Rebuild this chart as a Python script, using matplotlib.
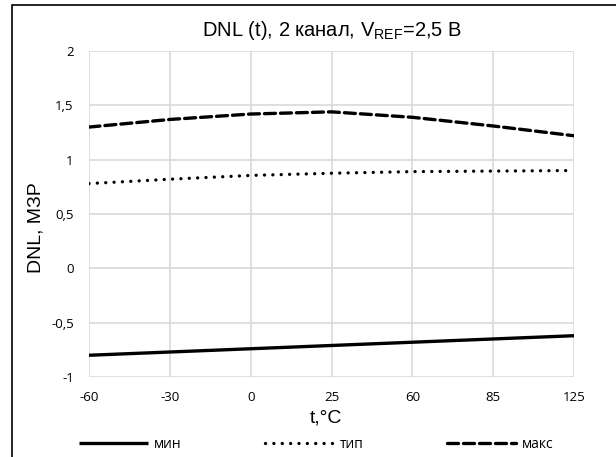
import matplotlib
matplotlib.use("Agg")
import matplotlib.pyplot as plt
from matplotlib.patches import Rectangle

# temperature points (category axis, like the Excel original)
temps = [-60, -30, 0, 25, 60, 85, 125]
dnl_min = [-0.80, -0.77, -0.74, -0.71, -0.68, -0.65, -0.62]
dnl_typ = [0.78, 0.82, 0.855, 0.875, 0.89, 0.895, 0.90]
dnl_max = [1.30, 1.37, 1.42, 1.44, 1.39, 1.31, 1.22]

y_ticks = [-1, -0.5, 0, 0.5, 1, 1.5, 2]
y_labels = ["-1", "-0,5", "0", "0,5", "1", "1,5", "2"]

plt.rcParams['font.family'] = ['Liberation Sans', 'DejaVu Sans']
plt.rcParams['mathtext.default'] = 'regular'

W, H = 616, 457
fig = plt.figure(figsize=(6.16, 4.57), dpi=100)
ax = fig.add_axes([89/W, 1 - 377/H, (574 - 89)/W, (377 - 51)/H])

# outer chart frame (left/top visible, the rest runs off the picture)
fig.patches.append(Rectangle((12/W, -0.1), 1.2, 1 - 5/H + 0.1,
                             transform=fig.transFigure, fill=False,
                             edgecolor="black", linewidth=1.2))

x = list(range(len(temps)))
ax.plot(x, dnl_min, color="black", lw=2.4, solid_capstyle="butt", label="мин")
ax.plot(x, dnl_typ, color="black", lw=2.4, linestyle=(0, (0.01, 2.5)),
        dash_capstyle="round", label="тип")
ax.plot(x, dnl_max, color="black", lw=2.4, linestyle=(0, (3.3, 1.5)),
        dash_capstyle="round", label="макс")

ax.set_xlim(0, len(temps) - 1)
ax.set_ylim(-1, 2)
ax.set_xticks(x)
ax.set_xticklabels([str(t) for t in temps])
ax.set_yticks(y_ticks)
ax.set_yticklabels(y_labels)
ax.tick_params(length=0, labelsize=9.5, colors="black")
ax.tick_params(axis="x", pad=10)
ax.tick_params(axis="y", pad=11)
for lab in ax.get_xticklabels() + ax.get_yticklabels():
    lab.set_family(['Open Sans', 'DejaVu Sans'])

ax.grid(True, color="#d9d9d9", lw=1.2)
ax.set_axisbelow(True)
for s in ax.spines.values():
    s.set_visible(False)

fig.text(326/W, 1 - 418/H, "t,°C", ha="center", va="center", fontsize=14)
fig.text(36/W, 1 - 228/H, "DNL, МЗР", ha="center", va="center",
         rotation=90, fontsize=14)
fig.text(332/W, 1 - 30/H, "DNL (t), 2 канал, V$_{REF}$=2,5 В",
         ha="center", va="center", fontsize=14.5)

leg = fig.legend(loc="center", bbox_to_anchor=(316/W, 1 - 444/H), ncol=3,
                 frameon=False, fontsize=10, handlelength=5.0, columnspacing=6.0,
                 handletextpad=0.4, borderaxespad=0)
for t in leg.get_texts():
    t.set_family(['Open Sans', 'DejaVu Sans'])

fig.savefig("out.png", dpi=100)
